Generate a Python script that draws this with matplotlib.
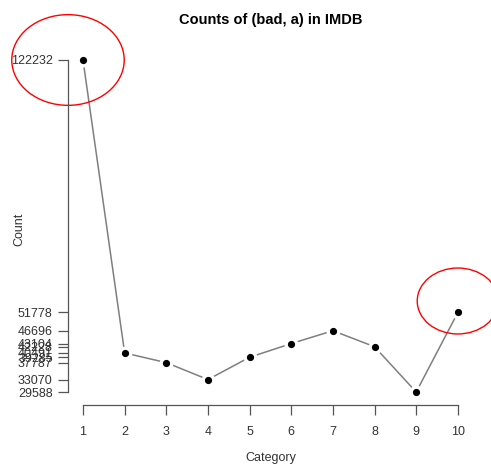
import matplotlib
matplotlib.use("Agg")
import matplotlib.pyplot as plt
from matplotlib.patches import Ellipse

categories = [1, 2, 3, 4, 5, 6, 7, 8, 9, 10]
counts = [122232, 40491, 37787, 33070, 39285, 43104, 46696, 42228, 29588, 51778]

plt.rcParams['font.family'] = ['Liberation Sans', 'DejaVu Sans']

fig = plt.figure(figsize=(4.91, 4.69), dpi=100)
ax = fig.add_axes([0.1385, 0.1358, 0.963 - 0.1385, 0.9004 - 0.1358])

# R type="b": line with gaps around the points
ax.plot(categories, counts, color='#7f7f7f', lw=1.1, zorder=1)
ax.plot(categories, counts, 'o', color='white', ms=10, mew=0, zorder=2)
ax.plot(categories, counts, 'o', color='black', ms=5.2, mew=0, zorder=3)

pad_x = 0.04 * (max(categories) - min(categories))
pad_y = 0.04 * (max(counts) - min(counts))
ax.set_xlim(min(categories) - pad_x, max(categories) + pad_x)
ax.set_ylim(min(counts) - pad_y, max(counts) + pad_y)

ax.set_xticks(categories)
ax.set_yticks(sorted(set(counts)))
ax.set_yticklabels([str(v) for v in sorted(set(counts))])

for s in ['top', 'right']:
    ax.spines[s].set_visible(False)
ax.spines['left'].set_bounds(min(counts), max(counts))
ax.spines['bottom'].set_bounds(min(categories), max(categories))
for s in ['left', 'bottom']:
    ax.spines[s].set_color('#555555')
    ax.spines[s].set_linewidth(0.9)
ax.tick_params(direction='out', length=7, width=0.9, color='#555555',
               labelsize=9, labelcolor='#333333')
ax.tick_params(axis='x', pad=8)
ax.tick_params(axis='y', pad=4)

ax.set_title('Counts of (bad, a) in IMDB', fontsize=10.5, fontweight='bold', pad=16)
ax.set_xlabel('Category', fontsize=9, color='#333333', labelpad=10)
ax.set_ylabel('Count', fontsize=9, color='#333333')
ax.yaxis.set_label_coords(-0.105, 0.49)

# highlight the outliers
ax.add_patch(Ellipse((0.64, 122232), 2.7, 25300, fill=False, ec='red', lw=1, clip_on=False))
ax.add_patch(Ellipse((10, 54987), 1.95, 18400, fill=False, ec='red', lw=1, clip_on=False))

fig.savefig('out.png', dpi=100)
